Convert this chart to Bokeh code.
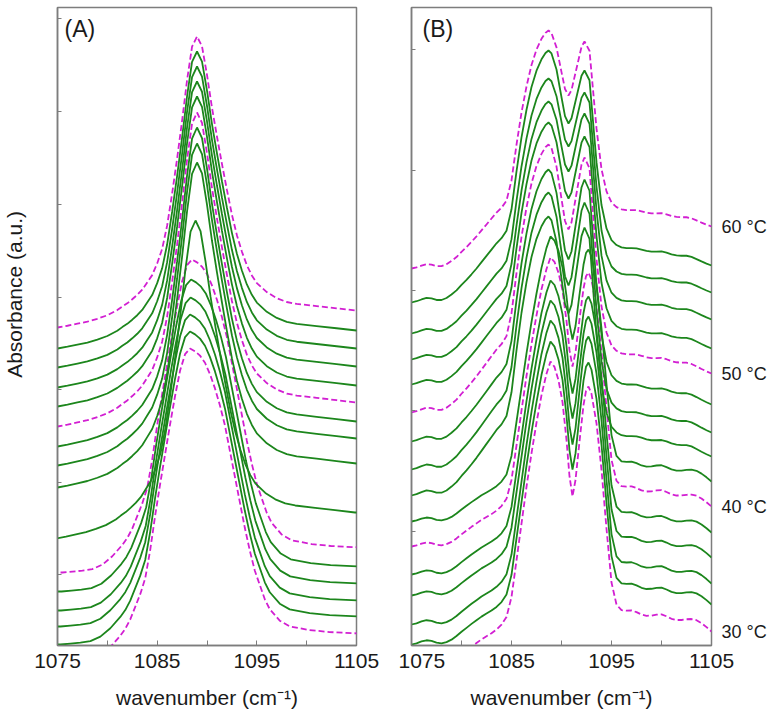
import numpy as np
from bokeh.plotting import figure
from bokeh.models import Range1d, FixedTicker, LinearAxis, Label, CustomLabelingPolicy
from bokeh.layouts import row
from bokeh.embed import file_html
from bokeh.resources import INLINE

# ---------------- data ----------------
temps = [30, 32, 34, 36, 38, 40, 42, 44, 46, 48, 50, 52, 54, 56, 58, 60]
labelled_temps = [30, 40, 50, 60]

# Panel A (absorbance, arbitrary units): baseline at 1075, peak, baseline at 1105
a_left = [-18, 1, 19, 35, 54, 73, 107, 158, 180, 199, 219, 239, 258, 278, 297, 318]
a_peak = [297, 314, 331, 348, 366, 386, 425, 483, 502, 518, 533, 549, 564, 579, 594, 609]
a_right = [12, 29, 45, 62, 79, 98, 133, 182, 207, 224, 243, 260, 279, 297, 315, 335]
a_peak_wn = [1088.3, 1088.3, 1088.3, 1088.35, 1088.4, 1088.5, 1088.85, 1089.0,
             1089.0, 1089.0, 1089.0, 1089.0, 1089.0, 1089.0, 1089.0, 1089.0]
a_shape = ["lo"] * 6 + ["hi"] * 10

# normalised band profiles of panel A (offset from the peak, fraction of height)
a_hi_dx = [-15, -14, -13, -12, -11, -10, -9, -8, -7.5, -7, -6.5, -6, -5.5, -5, -4.5, -4,
           -3.5, -3, -2.5, -2, -1.5, -1, -0.5, 0,
           0.5, 1, 1.5, 2, 2.5, 3, 3.5, 4, 4.5, 5, 5.5, 6, 7, 8, 9, 10, 12, 14, 16, 17]
a_hi_val = [0, 0, 0.006, 0.013, 0.02, 0.03, 0.042, 0.06, 0.072, 0.083, 0.097, 0.112, 0.13,
            0.155, 0.18, 0.22, 0.27, 0.35, 0.46, 0.58, 0.71, 0.85, 0.965, 1.0,
            0.964, 0.86, 0.74, 0.635, 0.535, 0.44, 0.35, 0.275, 0.215, 0.165, 0.128, 0.1,
            0.067, 0.045, 0.031, 0.024, 0.016, 0.008, 0.0, 0.0]
a_lo_dx = [-15, -13, -12, -11, -10, -9, -8, -7, -6.5, -6, -5.5, -5, -4.5, -4, -3.5, -3,
           -2.5, -2, -1.5, -1, -0.5, 0,
           0.5, 1, 1.5, 2, 2.5, 3, 3.5, 4, 4.5, 5, 5.5, 6, 6.5, 7, 7.5, 8, 9, 10, 12, 14, 17]
a_lo_val = [0, 0, 0.003, 0.006, 0.011, 0.025, 0.052, 0.088, 0.11, 0.14, 0.18, 0.22, 0.27,
            0.36, 0.47, 0.57, 0.665, 0.76, 0.85, 0.93, 0.982, 1.0,
            0.99, 0.975, 0.95, 0.91, 0.86, 0.8, 0.73, 0.64, 0.55, 0.46, 0.37, 0.29, 0.22,
            0.17, 0.12, 0.085, 0.045, 0.025, 0.012, 0.005, 0.0]

# Panel B: baseline 1075, first peak, dip, second peak, baseline 1105
b_left = [-22, 1, 21, 50, 71, 99, 124, 150, 176, 204, 233, 261, 286, 312, 343, 377]
b_p1 = [284, 304, 325, 345, 365, 388, 409, 429, 453, 476, 501, 523, 544, 567, 595, 615]
b_dip = [149, 176, 201, 227, 252, 279, 306, 332, 360, 386, 416, 447, 474, 499, 522, 550]
b_p2 = [259, 283, 309, 329, 349, 373, 396, 418, 443, 466, 488, 509, 532, 553, 575, 604]
b_right = [14, 41, 62, 88, 113, 139, 164, 189, 213, 241, 272, 297, 326, 353, 380, 419]
b_shape = ["lo"] * 7 + ["hi"] * 9

b_hi_wn = [1075, 1075.5, 1076, 1076.5, 1077, 1077.5, 1078, 1078.5, 1079, 1079.5, 1080, 1080.5,
           1081, 1081.5, 1082, 1082.5, 1083, 1083.5, 1084, 1084.5, 1085, 1085.5, 1086, 1086.5,
           1087, 1087.5, 1088, 1088.4, 1088.7,
           1089.0, 1089.5, 1090.0, 1090.35, 1090.7,
           1091.0, 1091.5, 1092.0, 1092.3,
           1092.8, 1093.2, 1093.5, 1094, 1094.5, 1095, 1095.5, 1096, 1096.5, 1097, 1097.5,
           1098, 1098.5, 1099, 1099.5, 1100, 1100.5, 1101, 1101.5, 1102, 1102.5, 1103,
           1103.5, 1104, 1104.5, 1105]
b_hi_val = [0, 0.005, 0.012, 0.018, 0.016, 0.01, 0.01, 0.018, 0.032, 0.048, 0.07, 0.09,
            0.112, 0.135, 0.16, 0.185, 0.21, 0.235, 0.255, 0.285, 0.37, 0.52, 0.655, 0.765,
            0.855, 0.92, 0.965, 0.99, 1.0,
            0.96, 0.74, 0.36, 0.1, 0.0,
            0.1, 0.5, 0.9, 1.0,
            0.95, 0.71, 0.53, 0.31, 0.19, 0.13, 0.105, 0.093, 0.089, 0.089, 0.088,
            0.082, 0.075, 0.071, 0.071, 0.072, 0.066, 0.057, 0.052, 0.05, 0.05, 0.044,
            0.033, 0.021, 0.01, 0.0]
b_hi_anchor = [1088.7, 1090.7, 1092.3]

b_lo_wn = [1075, 1075.5, 1076, 1076.5, 1077, 1077.5, 1078, 1078.5, 1079, 1079.5, 1080, 1080.5,
           1081, 1081.5, 1082, 1082.5, 1083, 1083.5, 1084, 1084.5, 1085, 1085.5, 1086, 1086.5,
           1087, 1087.5, 1088, 1088.5, 1088.9,
           1089.3, 1089.7, 1090.1, 1090.5, 1090.8, 1091.1,
           1091.4, 1091.8, 1092.2, 1092.45, 1092.7,
           1093, 1093.5, 1094, 1094.5, 1095, 1095.5, 1096, 1096.5, 1097, 1097.5, 1098, 1098.5,
           1099, 1099.5, 1100, 1100.5, 1101, 1101.5, 1102, 1102.5, 1103, 1103.5, 1104,
           1104.5, 1105]
b_lo_val = [0, 0.004, 0.01, 0.014, 0.012, 0.006, 0.004, 0.008, 0.016, 0.028, 0.042, 0.055,
            0.068, 0.08, 0.092, 0.102, 0.112, 0.124, 0.14, 0.165, 0.23, 0.35, 0.47, 0.59,
            0.7, 0.8, 0.89, 0.96, 1.0,
            0.96, 0.86, 0.7, 0.42, 0.15, 0.0,
            0.15, 0.5, 0.83, 0.96, 1.0,
            0.97, 0.85, 0.66, 0.42, 0.2, 0.11, 0.087, 0.085, 0.086, 0.079, 0.069, 0.064,
            0.065, 0.069, 0.07, 0.062, 0.052, 0.047, 0.047, 0.05, 0.051, 0.046, 0.034,
            0.018, 0.0]
b_lo_anchor = [1088.9, 1091.1, 1092.7]

x_major = [1075, 1085, 1095, 1105]
x_minor = [1080, 1090, 1100]
a_yticks = [71, 163, 256, 348, 441, 534, 627]
b_yticks = [114, 235, 355, 475, 596]

# ---------------- style ----------------
GREEN = "#1c861c"
MAGENTA = "#d21fd2"
GREY = "#7d7d7d"
TXT = "#1a1a1a"
FONT = "Liberation Sans"
HIDE_ALL = CustomLabelingPolicy(code="for (const i of indices) { indices.unset(i) } return indices")


def curve_a(i):
    if a_shape[i] == "hi":
        dx, val = np.array(a_hi_dx, float), np.array(a_hi_val, float)
    else:
        dx, val = np.array(a_lo_dx, float), np.array(a_lo_val, float)
    x = a_peak_wn[i] + dx
    y = np.where(dx <= 0, a_left[i] + (a_peak[i] - a_left[i]) * val,
                 a_right[i] + (a_peak[i] - a_right[i]) * val)
    return x, y


def curve_b(i):
    if b_shape[i] == "hi":
        wn, val, anc = np.array(b_hi_wn, float), np.array(b_hi_val, float), b_hi_anchor
    else:
        wn, val, anc = np.array(b_lo_wn, float), np.array(b_lo_val, float), b_lo_anchor
    p1, d, p2 = anc
    y = np.empty_like(val)
    m = wn <= p1
    y[m] = b_left[i] + (b_p1[i] - b_left[i]) * val[m]
    m = (wn > p1) & (wn <= d)
    y[m] = b_dip[i] + (b_p1[i] - b_dip[i]) * val[m]
    m = (wn > d) & (wn <= p2)
    y[m] = b_dip[i] + (b_p2[i] - b_dip[i]) * val[m]
    m = wn > p2
    y[m] = b_right[i] + (b_p2[i] - b_right[i]) * val[m]
    return wn, y


def make_fig(fw, bl, br, yticks):
    p = figure(frame_width=fw, frame_height=638, x_range=Range1d(1075, 1105),
               y_range=Range1d(0, 638), output_backend="svg", toolbar_location=None,
               min_border_left=bl, min_border_right=br, min_border_top=7,
               min_border_bottom=60)
    p.grid.visible = False
    p.outline_line_color = GREY
    p.outline_line_width = 1.5
    xa = p.xaxis[0]
    xa.ticker = FixedTicker(ticks=x_major, minor_ticks=x_minor)
    xa.major_tick_in = 5
    xa.major_tick_out = 0
    xa.minor_tick_in = 5
    xa.minor_tick_out = 0
    xa.major_tick_line_color = GREY
    xa.minor_tick_line_color = GREY
    xa.axis_line_color = GREY
    xa.axis_line_width = 1.5
    xa.major_label_text_font = FONT
    xa.major_label_text_font_size = "21px"
    xa.major_label_text_color = TXT
    xa.major_label_standoff = 8
    xa.axis_label = "wavenumber (cm⁻¹)"
    xa.axis_label_text_font = FONT
    xa.axis_label_text_font_size = "21px"
    xa.axis_label_text_font_style = "normal"
    xa.axis_label_text_color = TXT
    xa.axis_label_standoff = 15
    ya = p.yaxis[0]
    ya.ticker = FixedTicker(ticks=yticks)
    ya.major_tick_in = 4
    ya.major_tick_out = 0
    ya.minor_tick_line_color = None
    ya.major_tick_line_color = GREY
    ya.axis_line_color = GREY
    ya.axis_line_width = 1.5
    ya.major_label_text_font_size = "2px"
    ya.major_label_standoff = 0
    ya.major_label_policy = HIDE_ALL
    return p


pa = make_fig(299, 57, 42, a_yticks)
ya = pa.yaxis[0]
# leading no-break spaces lift the (centred) label a little, as in the original
ya.axis_label = "\u00a0" * 11 + "Absorbance (a.u.)"
ya.axis_label_text_font = FONT
ya.axis_label_text_font_size = "21px"
ya.axis_label_text_font_style = "normal"
ya.axis_label_text_color = TXT
ya.axis_label_standoff = 25

for i, t in enumerate(temps):
    x, y = curve_a(i)
    if t in labelled_temps:
        pa.line(x, y, line_color=MAGENTA, line_width=1.8, line_dash="6 3")
    else:
        pa.line(x, y, line_color=GREEN, line_width=1.8)
pa.add_layout(Label(x=1075.7, y=617, text="(A)", text_font=FONT, text_font_size="23px",
                    text_baseline="middle", text_color=TXT))

pb = make_fig(300, 13, 57, b_yticks)
for i, t in enumerate(temps):
    x, y = curve_b(i)
    if t in labelled_temps:
        pb.line(x, y, line_color=MAGENTA, line_width=1.8, line_dash="6 3")
    else:
        pb.line(x, y, line_color=GREEN, line_width=1.8)
pb.add_layout(Label(x=1076.1, y=617, text="(B)", text_font=FONT, text_font_size="23px",
                    text_baseline="middle", text_color=TXT))

lab_ticks = [b_right[temps.index(t)] for t in labelled_temps]
rax = LinearAxis(ticker=FixedTicker(ticks=lab_ticks),
                 major_label_overrides={v: f"{t} °C" for v, t in zip(lab_ticks, labelled_temps)},
                 axis_line_color=None, major_tick_line_color=None, minor_tick_line_color=None,
                 major_tick_in=0, major_tick_out=0, minor_tick_in=0, minor_tick_out=0,
                 major_label_standoff=10, major_label_text_font=FONT,
                 major_label_text_font_size="18px", major_label_text_color=TXT)
pb.add_layout(rax, "right")

layout = row(pa, pb)
open("out.html", "w").write(file_html(layout, INLINE))
